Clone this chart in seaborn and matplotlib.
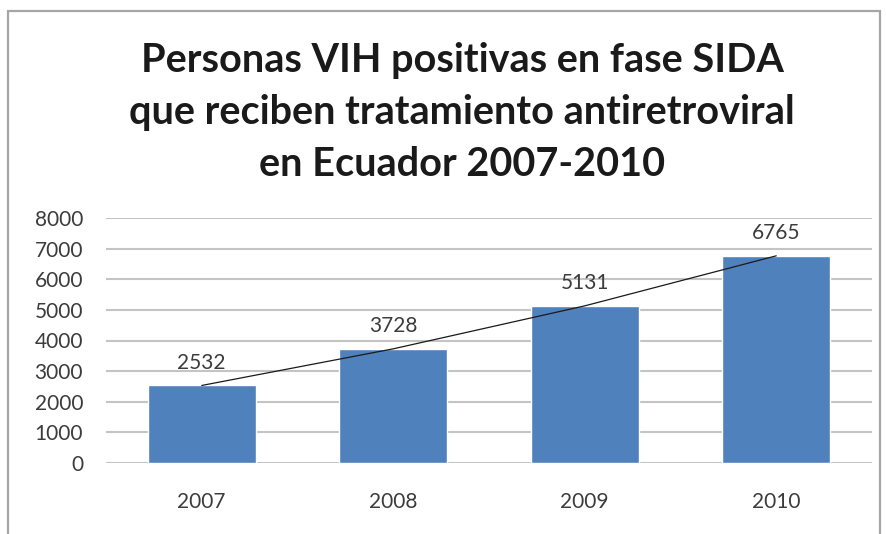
import matplotlib
matplotlib.use("Agg")
import matplotlib.pyplot as plt
import seaborn as sns
import pandas as pd
from matplotlib.patches import Rectangle

# Data
years = ["2007", "2008", "2009", "2010"]
patients = [2532, 3728, 5131, 6765]
y_ticks = [0, 1000, 2000, 3000, 4000, 5000, 6000, 7000, 8000]
title_lines = [
    "Personas VIH positivas en fase SIDA",
    "que reciben tratamiento antiretroviral",
    "en Ecuador 2007-2010",
]

df = pd.DataFrame({"year": years, "patients": patients})

sns.set_theme(style="white")
plt.rcParams["font.family"] = ["Lato", "DejaVu Sans"]

W, H = 887, 534
fig = plt.figure(figsize=(W / 100, H / 100), dpi=100)
fig.patch.set_facecolor("white")

# Outer chart frame
fig.add_artist(Rectangle((8 / W, -0.05), (880 - 8) / W, 1.05 - 11 / H,
                         transform=fig.transFigure, fill=False,
                         edgecolor="#a6a6a6", linewidth=1.6))

ax = fig.add_axes([106 / W, 1 - 463 / H, (872 - 106) / W, (463 - 218) / H])

sns.barplot(data=df, x="year", y="patients", color="#4F81BD", saturation=1,
            width=0.565, ax=ax, zorder=2)

# Line joining the tops of the bars
sns.lineplot(x=list(range(len(years))), y=patients, color="#1a1a1a",
             linewidth=0.9, ax=ax, zorder=3)

ax.set_ylim(0, 8000)
ax.set_xlim(-0.5, len(years) - 0.5)
ax.set_yticks(y_ticks)
ax.set_yticklabels([str(v) for v in y_ticks])
ax.yaxis.grid(True, color="#c4c4c4", linewidth=1.5, zorder=0)
ax.set_axisbelow(True)
for s in ax.spines.values():
    s.set_visible(False)
ax.tick_params(axis="both", length=0, labelsize=15, labelcolor="#3c3c3c")
ax.tick_params(axis="y", pad=16.5)
ax.tick_params(axis="x", pad=21)
ax.set_xlabel("")
ax.set_ylabel("")

for i, v in enumerate(patients):
    ax.annotate(str(v), (i, v), xytext=(0, 9), textcoords="offset points",
                ha="center", va="bottom", fontsize=15, color="#3c3c3c")

# Title, one line at a time
baselines = [72, 124, 176]
for line, yb in zip(title_lines, baselines):
    fig.text(462 / W, 1 - yb / H, line, ha="center", va="baseline",
             fontsize=28.5, fontweight="bold", color="#1a1a1a")

fig.savefig("out.png", dpi=100, facecolor="white")
